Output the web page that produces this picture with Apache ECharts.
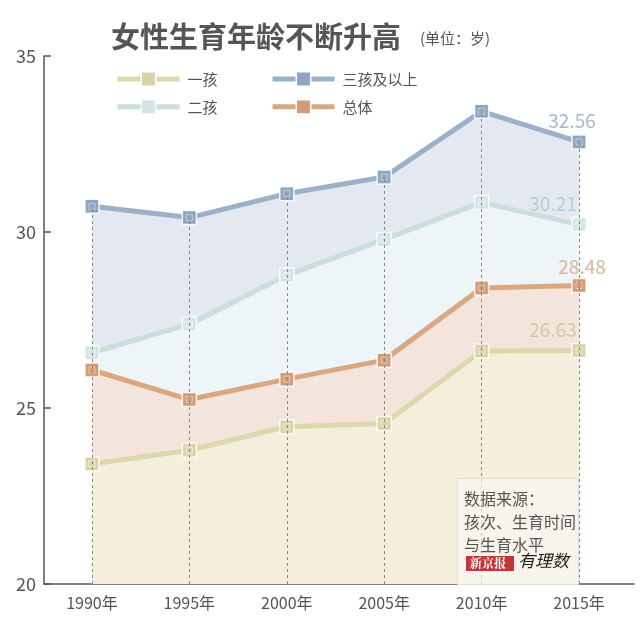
<!DOCTYPE html>
<html>
<head>
<meta charset="utf-8">
<script src="https://cdn.jsdelivr.net/npm/echarts@6/dist/echarts.min.js"></script>
<style>
html,body{margin:0;padding:0;background:#fff;}
#chart{width:640px;height:644px;}
</style>
</head>
<body>
<div id="chart"></div>
<script>
// ---- data ----
const years = [1990, 1995, 2000, 2005, 2010, 2015];
const xTickLabels = ['1990年', '1995年', '2000年', '2005年', '2010年', '2015年'];
const yTicks = [20, 25, 30, 35];
const seriesNames = ['一孩', '二孩', '三孩及以上', '总体'];
const firstChild = [23.41, 23.80, 24.47, 24.56, 26.62, 26.63];
const secondChild = [26.57, 27.38, 28.77, 29.79, 30.84, 30.21];
const thirdPlus = [30.73, 30.41, 31.09, 31.56, 33.43, 32.56];
const overall = [26.08, 25.24, 25.82, 26.36, 28.41, 28.48];
const endLabels = ['26.63', '30.21', '32.56', '28.48'];

const FONT = '"Noto Sans CJK SC", "Noto Sans", sans-serif';
const pairs = arr => years.map((y, i) => [y, arr[i]]);

const styles = {
  '三孩及以上': {line: '#9cb1c7', mark: '#8ea6bf', area: '#e3e8f1', label: '#a9b9ca', inner: 'rgba(255,255,255,0.55)', off: [-7, 0]},
  '二孩': {line: '#cadedb', mark: '#d4e4e4', area: '#eef5f8', label: '#b7ced3', inner: 'rgba(255,255,255,0.7)', off: [-26, 0]},
  '总体': {line: '#d9a880', mark: '#d19c76', area: '#f4e5dc', label: '#d8b796', inner: 'rgba(255,255,255,0.55)', off: [3, 3]},
  '一孩': {line: '#ddd8ab', mark: '#d9d4a8', area: '#f3efdc', label: '#d2c9a6', inner: 'rgba(255,255,255,0.7)', off: [-26, 0]}
};
const dataMap = {'一孩': firstChild, '二孩': secondChild, '三孩及以上': thirdPlus, '总体': overall};
const labelMap = {'一孩': endLabels[0], '二孩': endLabels[1], '三孩及以上': endLabels[2], '总体': endLabels[3]};
const drawOrder = ['三孩及以上', '二孩', '总体', '一孩'];

const series = [];
// areas (back to front)
drawOrder.forEach(n => {
  series.push({
    type: 'line', name: n + '_area', data: pairs(dataMap[n]), z: 1,
    symbol: 'none', lineStyle: {width: 0}, silent: true,
    areaStyle: {color: styles[n].area, opacity: 1}, animation: false
  });
});
// dotted guide lines
series.push({
  type: 'line', name: 'guide', data: [], z: 2, symbol: 'none', animation: false,
  markLine: {
    silent: true, symbol: ['none', 'none'], animation: false,
    label: {show: false},
    lineStyle: {color: '#8a8a8a', type: [3, 3], width: 1},
    data: years.map((y, i) => [{coord: [y, yTicks[0]]}, {coord: [y, thirdPlus[i]]}])
  }
});
// lines with markers
drawOrder.forEach(n => {
  const s = styles[n];
  const d = dataMap[n];
  series.push({
    type: 'line', name: n, z: 3, animation: false,
    data: pairs(d).map((p, i) => i === d.length - 1 ? {
      value: p,
      label: {show: true, formatter: labelMap[n], position: 'top', distance: 4,
        offset: s.off, color: s.label, fontSize: 19, fontFamily: FONT}
    } : p),
    symbol: 'rect', symbolSize: 14,
    lineStyle: {color: s.line, width: 5},
    itemStyle: {color: s.mark, borderColor: 'rgba(255,255,255,0.85)', borderWidth: 1.5}
  });
  series.push({
    type: 'scatter', name: n + '_inner', z: 4, animation: false, silent: true,
    data: pairs(d), symbol: 'rect', symbolSize: 6,
    itemStyle: {color: 'rgba(0,0,0,0)', borderColor: s.inner, borderWidth: 1}
  });
});

const legendCommon = {
  orient: 'vertical', top: 66, itemWidth: 62, itemHeight: 18, itemGap: 12,
  lineStyle: {width: 5},
  itemStyle: {borderColor: '#fff', borderWidth: 1.5},
  textStyle: {fontSize: 15, color: '#555', padding: [0, 0, 0, 3], fontFamily: FONT}
};

const chart = echarts.init(document.getElementById('chart'));
chart.setOption({
  backgroundColor: '#fff',
  animation: false,
  textStyle: {fontFamily: FONT},
  grid: {left: 44, right: 6, top: 56, bottom: 60, containLabel: false},
  title: [
    {text: '女性生育年龄不断升高', left: 106, top: 17,
      textStyle: {fontSize: 29, fontWeight: 'bold', color: '#555', fontFamily: FONT}},
    {text: '(单位：岁)', left: 415, top: 26,
      textStyle: {fontSize: 15, fontWeight: 'normal', color: '#555', fontFamily: FONT}}
  ],
  legend: [
    Object.assign({}, legendCommon, {left: 110, data: ['一孩', '二孩']}),
    Object.assign({}, legendCommon, {left: 265, data: ['三孩及以上', '总体']})
  ],
  xAxis: {
    type: 'value', min: 1987.54, max: 2017.82,
    axisLine: {show: true, lineStyle: {color: '#555', width: 1.5}},
    axisTick: {show: false},
    splitLine: {show: false},
    axisLabel: {
      customValues: years, margin: 11, fontSize: 16, color: '#555', fontFamily: FONT,
      formatter: v => xTickLabels[years.indexOf(Math.round(v))] || ''
    }
  },
  yAxis: {
    type: 'value', min: yTicks[0], max: yTicks[yTicks.length - 1], interval: 5,
    axisLine: {show: true, lineStyle: {color: '#555', width: 1.5}},
    axisTick: {show: true, inside: true, length: 7, lineStyle: {color: '#555', width: 1.5}},
    splitLine: {show: false},
    axisLabel: {margin: 8, fontSize: 18, color: '#555', fontFamily: FONT}
  },
  graphic: [
    {type: 'rect', left: 457, top: 478, z: 10,
      shape: {width: 121, height: 106},
      style: {fill: 'rgba(250,249,245,0.6)', stroke: '#e2ded6', lineWidth: 1}},
    {type: 'text', left: 464, top: 487, z: 11,
      style: {text: '数据来源：\n孩次、生育时间\n与生育水平', fill: '#555', fontSize: 16,
        lineHeight: 23, fontFamily: FONT}},
    {type: 'rect', left: 466, top: 556, z: 11, shape: {width: 48, height: 15},
      style: {fill: '#c4353a'}},
    {type: 'text', left: 470, top: 557, z: 12,
      style: {text: '新京报', fill: '#fff', fontSize: 12, fontWeight: 'bold',
        fontFamily: '"Noto Serif CJK SC", "DejaVu Serif", serif'}},
    {type: 'text', left: 518, top: 552, z: 12,
      style: {text: '有理数', fill: '#222', fontSize: 17, fontStyle: 'italic', fontFamily: FONT}}
  ],
  series: series
});
</script>
</body>
</html>
